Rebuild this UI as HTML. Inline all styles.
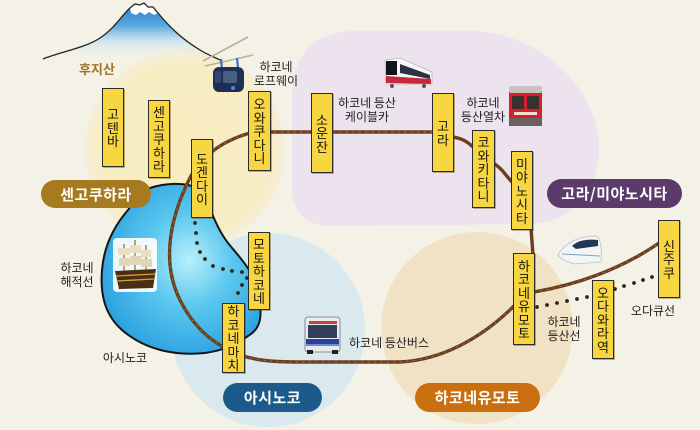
<!DOCTYPE html>
<html><head><meta charset="utf-8">
<style>
html,body{margin:0;padding:0;}
body{width:700px;height:430px;overflow:hidden;background:#f4f1e6;font-family:"Liberation Sans","Noto Sans CJK KR",sans-serif;}
#wrap{position:relative;width:700px;height:430px;}
svg{position:absolute;left:0;top:0;}
.st{position:absolute;background:#f8d642;border:1.5px solid #2b2b2b;box-sizing:border-box;display:flex;flex-direction:column;align-items:center;justify-content:center;font-size:13px;line-height:13.5px;color:#141414;box-shadow:1px 1px 0 rgba(70,50,0,.35);font-family:"Noto Sans CJK KR",sans-serif;}
.st span{display:block;height:13.5px;}
.lb{position:absolute;font-size:12px;line-height:14px;color:#222;text-align:center;font-family:"Noto Sans CJK KR",sans-serif;white-space:nowrap;}
.pill{position:absolute;color:#fff;font-size:15px;font-weight:bold;display:flex;align-items:center;justify-content:center;border-radius:15px;font-family:"Noto Sans CJK KR",sans-serif;letter-spacing:0.5px;}
</style></head><body><div id="wrap">
<svg width="700" height="430" viewBox="0 0 700 430">
<defs>
<radialGradient id="yel" cx="0.5" cy="0.5" r="0.5">
<stop offset="0" stop-color="#f8edc0"/><stop offset="0.85" stop-color="#f7edc3"/><stop offset="1" stop-color="#f5efd9"/>
</radialGradient>
<radialGradient id="lake" cx="0.55" cy="0.45" r="0.6">
<stop offset="0" stop-color="#b8f0fa"/><stop offset="0.45" stop-color="#5cc8ef"/><stop offset="1" stop-color="#2aa0e0"/>
</radialGradient>
<linearGradient id="mt" x1="0" y1="0" x2="0" y2="1">
<stop offset="0" stop-color="#2a7cc8"/><stop offset="0.4" stop-color="#5aa8e0"/><stop offset="0.7" stop-color="#c4e0f2" stop-opacity="0.6"/><stop offset="1" stop-color="#f4f1e6" stop-opacity="0"/>
</linearGradient>
</defs>
<!-- region backgrounds -->
<circle cx="185" cy="150" r="100" fill="url(#yel)"/>
<path d="M292 95 C292 55 315 31 355 31 L470 31 C540 31 600 90 599 150 C598 190 575 222 530 224 L330 226 C305 226 292 210 292 190 Z" fill="#ece3ee"/>
<circle cx="268" cy="330" r="97" fill="#d9e9ee"/>
<circle cx="477" cy="328" r="96" fill="#f2e2c5"/>

<!-- mountain -->
<path d="M43 59 C60 52 85 48 100 38 C115 28 122 15 130 8 L135 4 L140 5 L144 3 L148 7 L153 7 L158 13 C168 25 180 38 200 50 C208 55 214 57 220 60 L43 60 Z" fill="url(#mt)"/>
<path d="M130 8 L135 4 L140 5 L144 3 L148 7 L153 7 L158 13 L154 15 L149 12 L145 15 L140 12 L136 15 L131 13 Z" fill="#ffffff"/>
<path d="M43 59 C60 52 85 48 100 38 C115 28 122 15 130 8 L135 4 L140 5 L144 3 L148 7 L153 7 L158 13 C168 25 180 38 200 50 C208 55 214 57 220 60" fill="none" stroke="#222" stroke-width="1.3"/>

<!-- cable car -->
<line x1="203" y1="61" x2="248" y2="37" stroke="#b8b0a0" stroke-width="1.6"/>
<line x1="205" y1="66" x2="253" y2="55" stroke="#b8b0a0" stroke-width="1.6"/>
<path d="M221 59 L222 69 M237 58 L238 68" stroke="#3b6fc0" stroke-width="2.2"/>
<rect x="213" y="67" width="31" height="25" rx="6" fill="#1d2f55"/>
<rect x="223" y="71" width="14" height="12" rx="2" fill="#4a5f7d"/>
<rect x="215" y="71" width="6" height="12" rx="1" fill="#33496b"/>
<circle cx="233" cy="88" r="2" fill="#4a8fd8"/>

<!-- lake -->
<path d="M150 188 C165 183 185 182 197 188 C210 200 212 222 228 243 C240 258 255 272 259 295 C262 315 262 328 248 336 C235 345 225 350 205 353 C175 356 145 350 122 330 C105 315 100 295 102 270 C104 245 115 225 128 210 C136 198 142 192 150 188 Z" fill="url(#lake)" stroke="#151515" stroke-width="2"/>

<!-- ship -->
<g>
<rect x="113" y="238" width="44" height="54" rx="4" fill="#ffffff" opacity="0.9"/>
<line x1="124" y1="244" x2="124" y2="275" stroke="#8a6a3a" stroke-width="1.2"/>
<line x1="135" y1="240" x2="135" y2="275" stroke="#8a6a3a" stroke-width="1.2"/>
<line x1="146" y1="245" x2="146" y2="275" stroke="#8a6a3a" stroke-width="1.2"/>
<rect x="118" y="248" width="12" height="7" fill="#eadfc4"/><rect x="119" y="258" width="11" height="8" fill="#e3d6b6"/>
<rect x="130" y="245" width="11" height="8" fill="#eadfc4"/><rect x="130" y="256" width="12" height="9" fill="#e3d6b6"/>
<rect x="141" y="250" width="10" height="7" fill="#eadfc4"/><rect x="141" y="259" width="11" height="8" fill="#e3d6b6"/>
<path d="M115 271 L156 269 L153 288 L119 289 Z" fill="#4a2e14"/>
<path d="M116 276 L155 274 M117 281 L154 279" stroke="#d4a23a" stroke-width="1.3"/>
</g>

<!-- brown lines -->
<g fill="none" stroke="#6a4020" stroke-width="3.4" stroke-linecap="round">
<path d="M250 133 C225 140 200 155 188 182 C172 215 160 260 180 300 C195 330 215 345 240 355 C255 360 270 362 300 362 L400 362 C440 360 480 340 515 305"/>
<path d="M268 132 L434 132"/>
<path d="M452 137 C462 138 468 142 474 148"/>
<path d="M493 163 C502 168 506 176 512 182"/>
<path d="M531 228 L533 255"/>
<path d="M534 292 C575 285 620 270 659 243"/>
</g>
<g fill="none" stroke="#a8825a" stroke-width="0.9" stroke-dasharray="1.5 5">
<path d="M250 133 C225 140 200 155 188 182 C172 215 160 260 180 300 C195 330 215 345 240 355 C255 360 270 362 300 362 L400 362 C440 360 480 340 515 305"/>
<path d="M268 132 L434 132"/>
<path d="M534 292 C575 285 620 270 659 243"/>
</g>

<!-- dotted lines -->
<g fill="#2e2418">
<circle cx="195" cy="223" r="1.9"/><circle cx="196" cy="233" r="1.9"/><circle cx="197" cy="243" r="1.9"/>
<circle cx="200" cy="252" r="1.9"/><circle cx="205" cy="259" r="1.9"/><circle cx="213" cy="266" r="1.9"/>
<circle cx="223" cy="269" r="1.9"/><circle cx="232" cy="271" r="1.9"/><circle cx="242" cy="272" r="1.9"/>
<circle cx="247" cy="278" r="1.9"/><circle cx="242" cy="285" r="1.9"/><circle cx="238" cy="293" r="1.9"/>
<circle cx="537" cy="307" r="1.9"/><circle cx="547" cy="305" r="1.9"/><circle cx="557" cy="303" r="1.9"/>
<circle cx="567" cy="301" r="1.9"/><circle cx="577" cy="299" r="1.9"/><circle cx="587" cy="297" r="1.9"/>
<circle cx="615" cy="289" r="1.9"/><circle cx="624" cy="286" r="1.9"/><circle cx="634" cy="283" r="1.9"/>
<circle cx="643" cy="280" r="1.9"/><circle cx="652" cy="277" r="1.9"/>
</g>

<!-- cable train (케이블카) -->
<g>
<path d="M385 60 L400 58 L432 72 L432 84 L386 84 Z" fill="#f7f7f7" stroke="#9aa0a8" stroke-width="0.6"/>
<rect x="386" y="61" width="11" height="14" fill="#10161e"/>
<path d="M400 64 L430 75 L430 79 L400 73 Z" fill="#2a3440"/>
<path d="M386 76 L431 79 L431 84 L386 83 Z" fill="#c8283c"/>
<circle cx="392" cy="86" r="2" fill="#555"/><circle cx="424" cy="86" r="2" fill="#555"/>
</g>

<!-- red mountain train (등산열차) -->
<g>
<rect x="509" y="88" width="33" height="36" rx="3" fill="#d5202c"/>
<rect x="509" y="86" width="33" height="7" rx="2" fill="#c9c3c0"/>
<rect x="512" y="96" width="12" height="13" fill="#3a3030"/>
<rect x="527" y="96" width="12" height="13" fill="#3a3030"/>
<rect x="509" y="118" width="33" height="8" fill="#6a6060"/>
<rect x="514" y="112" width="23" height="3" fill="#f0e0d0"/>
</g>

<!-- romancecar -->
<g>
<path d="M558 255 C565 242 580 236 596 236 C601 238 602 250 601 262 L575 264 C566 262 560 258 558 255 Z" fill="#f2f4f6" stroke="#b8c0c8" stroke-width="0.8"/>
<path d="M572 246 C578 240 588 239 598 240 L598 246 L576 249 Z" fill="#203a56"/>
<path d="M562 254 L600 256" stroke="#7ea2c0" stroke-width="1"/>
</g>

<!-- bus -->
<g>
<rect x="305" y="317" width="35" height="35" rx="3" fill="#e8eaee" stroke="#6a7080" stroke-width="0.8"/>
<rect x="309" y="321" width="28" height="3" fill="#c84040"/>
<rect x="308" y="325" width="29" height="13" fill="#30405a"/>
<rect x="306" y="339" width="33" height="5" fill="#2a3f9a"/>
<rect x="306" y="344" width="33" height="2" fill="#6a8ad0"/>
<rect x="307" y="350" width="6" height="4" fill="#222"/><rect x="332" y="350" width="6" height="4" fill="#222"/>
</g>
</svg>

<!-- station boxes -->
<div class="st" style="left:102px;top:88px;width:22px;height:79px;"><span>고</span><span>텐</span><span>바</span></div>
<div class="st" style="left:148px;top:100px;width:22px;height:78px;"><span>센</span><span>고</span><span>쿠</span><span>하</span><span>라</span></div>
<div class="st" style="left:191px;top:139px;width:22px;height:79px;"><span>도</span><span>겐</span><span>다</span><span>이</span></div>
<div class="st" style="left:248px;top:91px;width:23px;height:80px;"><span>오</span><span>와</span><span>쿠</span><span>다</span><span>니</span></div>
<div class="st" style="left:311px;top:93px;width:22px;height:80px;"><span>소</span><span>운</span><span>잔</span></div>
<div class="st" style="left:432px;top:93px;width:22px;height:79px;"><span>고</span><span>라</span></div>
<div class="st" style="left:472px;top:130px;width:23px;height:78px;"><span>코</span><span>와</span><span>키</span><span>타</span><span>니</span></div>
<div class="st" style="left:511px;top:151px;width:22px;height:79px;"><span>미</span><span>야</span><span>노</span><span>시</span><span>타</span></div>
<div class="st" style="left:248px;top:232px;width:22px;height:78px;"><span>모</span><span>토</span><span>하</span><span>코</span><span>네</span></div>
<div class="st" style="left:222px;top:303px;width:23px;height:70px;"><span>하</span><span>코</span><span>네</span><span>마</span><span>치</span></div>
<div class="st" style="left:513px;top:253px;width:22px;height:92px;"><span>하</span><span>코</span><span>네</span><span>유</span><span>모</span><span>토</span></div>
<div class="st" style="left:658px;top:220px;width:22px;height:78px;"><span>신</span><span>주</span><span>쿠</span></div>
<div class="st" style="left:592px;top:280px;width:22px;height:79px;"><span>오</span><span>다</span><span>와</span><span>라</span><span>역</span></div>

<!-- labels -->
<div class="lb" style="left:74px;top:62px;width:46px;font-size:13px;color:#9c7628;font-weight:bold;">후지산</div>
<div class="lb" style="left:252px;top:60px;width:48px;">하코네<br>로프웨이</div>
<div class="lb" style="left:334px;top:96px;width:66px;">하코네 등산<br>케이블카</div>
<div class="lb" style="left:458px;top:96px;width:50px;">하코네<br>등산열차</div>
<div class="lb" style="left:56px;top:261px;width:42px;">하코네<br>해적선</div>
<div class="lb" style="left:100px;top:351px;width:50px;">아시노코</div>
<div class="lb" style="left:344px;top:336px;width:90px;">하코네 등산버스</div>
<div class="lb" style="left:543px;top:315px;width:42px;">하코네<br>등산선</div>
<div class="lb" style="left:628px;top:304px;width:50px;">오다큐선</div>

<!-- pills -->
<div class="pill" style="left:41px;top:180px;width:110px;height:28px;background:#a67b1f;">센고쿠하라</div>
<div class="pill" style="left:547px;top:179px;width:135px;height:29px;background:#5d3a6c;">고라/미야노시타</div>
<div class="pill" style="left:223px;top:383px;width:99px;height:29px;background:#1c5a8b;">아시노코</div>
<div class="pill" style="left:415px;top:383px;width:125px;height:29px;background:#c96f10;">하코네유모토</div>
</div></body></html>
